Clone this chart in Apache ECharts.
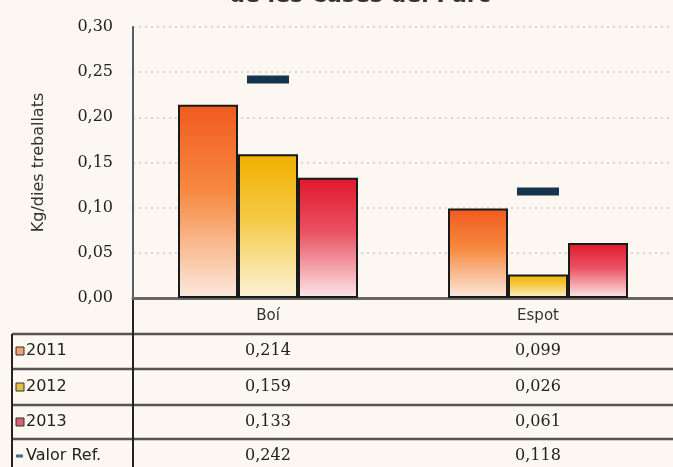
<!DOCTYPE html>
<html><head><meta charset="utf-8">
<script src="https://cdn.jsdelivr.net/npm/echarts@6/dist/echarts.min.js"></script>
<style>html,body{margin:0;padding:0;background:#fcf7f1;}#c{width:673px;height:467px;}</style>
</head><body><div id="c"></div>
<script>
const categories = ['Boí', 'Espot'];
const series2011 = [0.214, 0.099];
const series2012 = [0.159, 0.026];
const series2013 = [0.133, 0.061];
const valorRef = [0.242, 0.118];
const yTickLabels = ['0,00', '0,05', '0,10', '0,15', '0,20', '0,25', '0,30'];
const rowLabels = ['2011', '2012', '2013', 'Valor Ref.'];
const titleText = 'de les Cases del Parc';
const yAxisName = 'Kg/dies treballats';

const fmt = v => v.toFixed(3).replace('.', ',');
function grad(top, mid, bottom) {
  return new echarts.graphic.LinearGradient(0, 0, 0, 1, [
    {offset: 0, color: top}, {offset: 0.45, color: mid}, {offset: 1, color: bottom}
  ]);
}
const colors = {
  c2011: grad('#f05a1e', '#f78a40', '#fbeadf'),
  c2012: grad('#f2b000', '#f5ca45', '#fbf3da'),
  c2013: grad('#e0182c', '#ea5262', '#fbe8e8')
};
const refColor = '#163350';
const chart = echarts.init(document.getElementById('c'), null, {renderer: 'canvas'});
const barStyle = c => ({color: c, borderColor: '#1a1a1a', borderWidth: 2});
chart.setOption({
  backgroundColor: '#fcf7f1',
  animation: false,
  grid: {left: 133, right: -6, top: 27, bottom: 169, containLabel: false},
  xAxis: {
    type: 'category', data: categories,
    axisLine: {lineStyle: {color: '#666', width: 3}},
    axisTick: {show: false},
    axisLabel: {margin: 11, fontFamily: 'DejaVu Sans', fontSize: 15, color: '#333'}
  },
  yAxis: {
    type: 'value', min: 0, max: 0.3, interval: 0.05,
    name: yAxisName, nameLocation: 'middle', nameGap: 86,
    nameTextStyle: {fontFamily: 'DejaVu Sans', fontSize: 16, color: '#333'},
    axisLine: {show: true, lineStyle: {color: '#4f5f6f', width: 2}},
    axisTick: {show: false},
    axisLabel: {margin: 20, fontFamily: 'DejaVu Serif', fontSize: 16, color: '#222',
      formatter: v => yTickLabels[Math.round(v / 0.05)]},
    splitLine: {show: true, lineStyle: {color: '#cccccc', width: 1.5, type: [2, 4]}}
  },
  series: [
    {name: '2011', type: 'bar', data: series2011, barWidth: 60, barGap: '0%', itemStyle: barStyle(colors.c2011)},
    {name: '2012', type: 'bar', data: series2012, barWidth: 60, barGap: '0%', itemStyle: barStyle(colors.c2012)},
    {name: '2013', type: 'bar', data: series2013, barWidth: 60, barGap: '0%', itemStyle: barStyle(colors.c2013)},
    {name: 'Valor Ref.', type: 'scatter', data: valorRef, symbol: 'rect', symbolSize: [42, 8],
      itemStyle: {color: refColor, opacity: 1}, z: 5}
  ]
});

// data table below the chart
const rowCenters = [351, 387, 422, 456];
const lineYs = [334, 369, 405, 439];
const colX = categories.map(c => chart.convertToPixel({xAxisIndex: 0}, c));
const rowData = [series2011, series2012, series2013, valorRef];
const iconFill = ['#f4a070', '#e8c040', '#d86070'];
const g = [];
g.push({type: 'text', style: {text: titleText, x: 360, y: -4, align: 'center', verticalAlign: 'middle', font: 'bold 22px "DejaVu Sans"', fill: '#333'}});
lineYs.forEach(y => g.push({type: 'line', shape: {x1: 12, y1: y, x2: 673, y2: y}, style: {stroke: '#555', lineWidth: 2.5}}));
g.push({type: 'line', shape: {x1: 12, y1: 334, x2: 12, y2: 467}, style: {stroke: '#222', lineWidth: 2}});
g.push({type: 'line', shape: {x1: 133, y1: 298, x2: 133, y2: 467}, style: {stroke: '#222', lineWidth: 2}});
rowLabels.forEach((lab, i) => {
  const cy = rowCenters[i];
  if (i < 3) {
    g.push({type: 'rect', shape: {x: 16, y: cy - 4, width: 8, height: 8}, style: {fill: iconFill[i], stroke: '#333', lineWidth: 1}});
  } else {
    g.push({type: 'rect', shape: {x: 16, y: cy - 1.5, width: 7, height: 3}, style: {fill: '#4a6a8a'}});
  }
  g.push({type: 'text', style: {text: lab, x: 26, y: cy, verticalAlign: 'middle', font: '16px "DejaVu Sans"', fill: '#222'}});
  rowData[i].forEach((v, j) => {
    g.push({type: 'text', style: {text: fmt(v), x: colX[j], y: cy, align: 'center', verticalAlign: 'middle', font: '16px "DejaVu Serif"', fill: '#222'}});
  });
});
chart.setOption({graphic: g.map(e => Object.assign({silent: true}, e))});
</script></body></html>
